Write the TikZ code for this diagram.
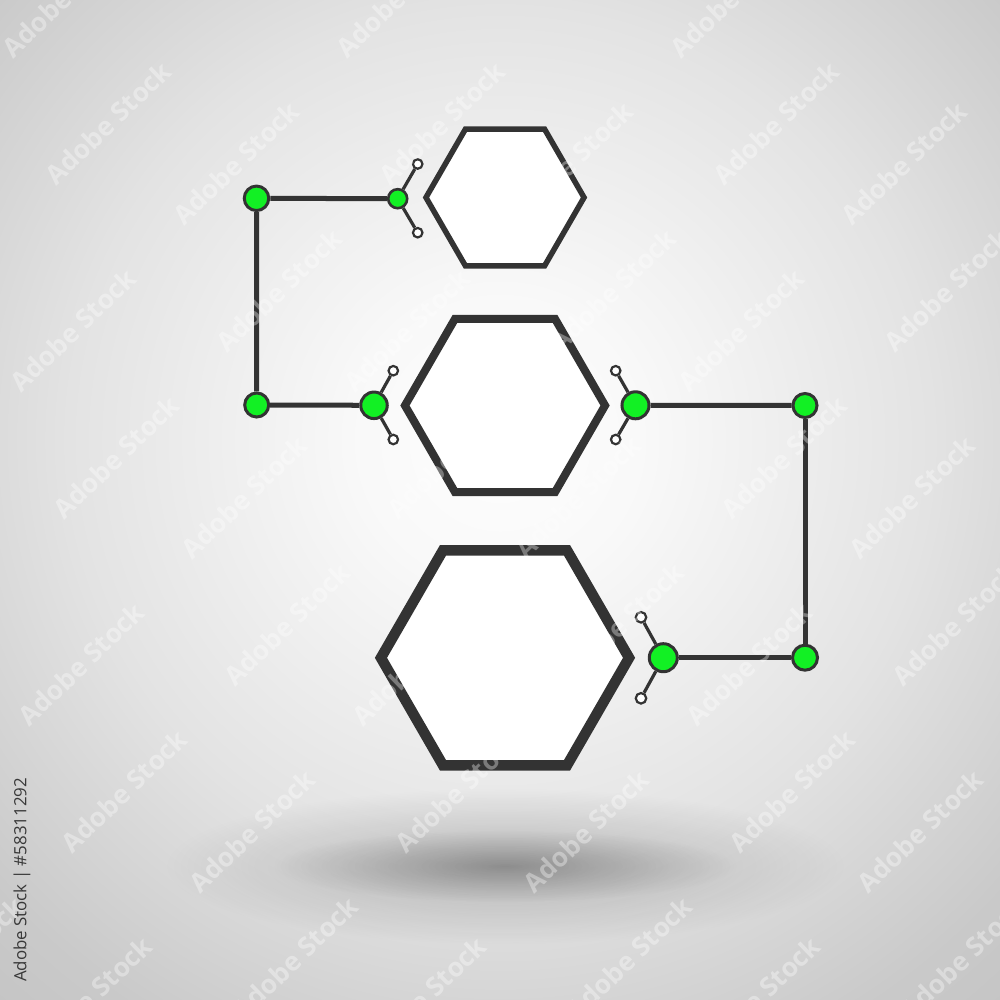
\documentclass[tikz,border=0pt]{standalone}
\usepackage{fontspec}
\newfontfamily\wmfont{Open Sans}
\newfontfamily\idfont{Open Sans}
\usetikzlibrary{shapes.geometric,fadings}

\definecolor{ink}{HTML}{333333}
\definecolor{dotgreen}{RGB}{18,240,36}
\definecolor{bgA}{gray}{0.995}
\definecolor{bgB}{gray}{0.975}
\definecolor{bgC}{gray}{0.89}
\definecolor{bgD}{gray}{0.79}
\definecolor{bgE}{gray}{0.77}

\pgfdeclareradialshading{bgshade}{\pgfpoint{0bp}{0bp}}{color(0bp)=(bgA); color(6bp)=(bgB); color(18bp)=(bgC); color(28bp)=(bgD); color(32bp)=(bgE); color(50bp)=(bgE)}
\tikzfading[name=shfade, inner color=transparent!0, outer color=transparent!100]

\begin{document}
\begin{tikzpicture}[x=0.01cm,y=-0.01cm,
  hexbox/.style={regular polygon, regular polygon sides=6, draw=ink, fill=white, inner sep=0pt, outer sep=0pt, line join=miter},
  bigdot/.style={circle, draw=ink, fill=dotgreen, line width=0.03cm, inner sep=0pt},
  tinydot/.style={circle, draw=ink, fill=white, line width=0.022cm, inner sep=0pt, minimum size=0.095cm},
  conn/.style={draw=ink, line width=0.05cm},
  spoke/.style={draw=ink, line width=0.032cm},
  wm/.style={font=\wmfont\bfseries\fontsize{7.5pt}{9pt}\selectfont, rotate=44, inner sep=0pt, text=white, text opacity=0.35},
  idtext/.style={font=\idfont\fontsize{4.8pt}{6pt}\selectfont, rotate=90, inner sep=0pt, text=black!78}]

\useasboundingbox (0,0) rectangle (1000,1000);

% background
\begin{scope}
  \clip (0,0) rectangle (1000,1000);
  \shade[shading=bgshade] (-100,-160) rectangle (1100,1040);
  % floor shadow
  \fill[black, opacity=0.2, path fading=shfade, fit fading=true] (505,866) ellipse [x radius=3.4cm, y radius=0.78cm];
  \fill[black, opacity=0.22, path fading=shfade, fit fading=true] (505,866) ellipse [x radius=2.3cm, y radius=0.36cm];
\end{scope}

% hexagons
\node[hexbox, line width=0.055cm, minimum size=1.58cm] (hexA) at (505,197.5) {};
\node[hexbox, line width=0.08cm, minimum size=2.0cm] (hexB) at (505,405.5) {};
\node[hexbox, line width=0.105cm, minimum size=2.48cm] (hexC) at (505,657.8) {};

% green dots
\node[bigdot, minimum size=0.245cm] (A) at (256.5,198.3) {};
\node[bigdot, minimum size=0.19cm, line width=0.026cm] (B) at (397.7,198.7) {};
\node[bigdot, minimum size=0.24cm] (C) at (256.7,405) {};
\node[bigdot, minimum size=0.265cm] (D) at (374,405.3) {};
\node[bigdot, minimum size=0.27cm] (E) at (635.5,405.3) {};
\node[bigdot, minimum size=0.24cm] (F) at (805,405.5) {};
\node[bigdot, minimum size=0.25cm] (G) at (805,657.7) {};
\node[bigdot, minimum size=0.28cm] (H) at (663.3,657.7) {};

% small white terminals
\node[tinydot] (bu) at (417.7,164) {};
\node[tinydot] (bd) at (417.7,232.7) {};
\node[tinydot] (du) at (393.3,370.7) {};
\node[tinydot] (dd) at (393.3,439.5) {};
\node[tinydot] (eu) at (615.7,370.7) {};
\node[tinydot] (ed) at (615.7,439.5) {};
\node[tinydot, minimum size=0.105cm] (hu) at (641,617.3) {};
\node[tinydot, minimum size=0.105cm] (hd) at (641,698.3) {};

% connectors
\draw[conn] (A) -- (B);
\draw[conn] (A) -- (C);
\draw[conn] (C) -- (D);
\draw[conn] (E) -- (F);
\draw[conn] (F) -- (G);
\draw[conn] (G) -- (H);

% spokes
\draw[spoke] (B) -- (bu);
\draw[spoke] (B) -- (bd);
\draw[spoke] (D) -- (du);
\draw[spoke] (D) -- (dd);
\draw[spoke] (E) -- (eu);
\draw[spoke] (E) -- (ed);
\draw[spoke] (H) -- (hu);
\draw[spoke] (H) -- (hd);

% watermark
\begin{scope}
  \clip (0,0) rectangle (1000,1000);
  \foreach \i in {-4,...,3}{
    \foreach \j in {-1,...,6}{
      \pgfmathsetmacro\wx{108+334*\i+171*\j}
      \pgfmathsetmacro\wy{123+167*\j}
      \pgfmathtruncatemacro\wi{\i+4}
      \pgfmathtruncatemacro\wj{\j+1}
      \pgfmathtruncatemacro\inA{(\wx>-40)&&(\wx<1040)&&(\wy>-40)&&(\wy<1040)?1:0}
      \pgfmathtruncatemacro\inB{(\wx+128>-40)&&(\wx+128<1040)&&(\wy+40>-40)&&(\wy+40<1040)?1:0}
      \ifnum\inA=1 \node[wm] (wa\wi\wj) at (\wx,\wy) {Adobe Stock};\fi
      \ifnum\inB=1 \node[wm] (wb\wi\wj) at (\wx+128,\wy+40) {Adobe Stock};\fi
    }
  }
\end{scope}

% stock id
\node[idtext] (stockid) at (22,880) {Adobe Stock | \#58311292};

\end{tikzpicture}
\end{document}
